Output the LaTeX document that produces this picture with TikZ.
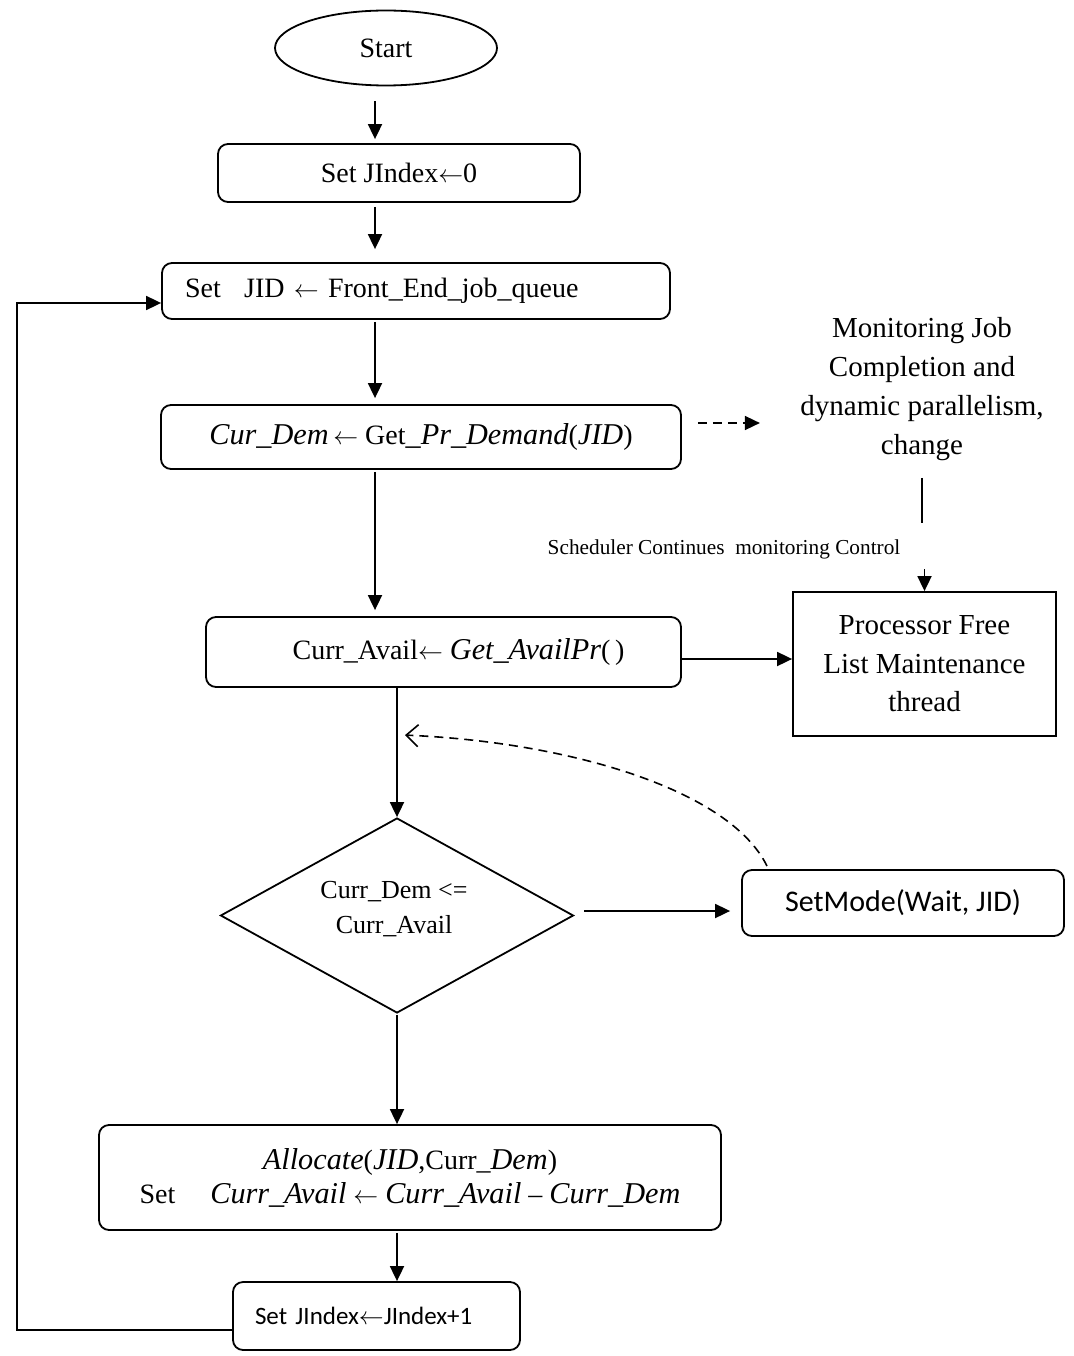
\documentclass[tikz,border=0pt]{standalone}
\usepackage{fontspec}
\setmainfont{Liberation Serif}
\newfontfamily\calfont{Carlito}
\newfontfamily\itf{Liberation Serif}[Scale=1.08]
\newcommand\mi[1]{{\itf\itshape #1}}
\newcommand\larr{\ensuremath{\leftarrow}}
\usetikzlibrary{shapes.geometric,arrows.meta,calc}
\begin{document}
\begin{tikzpicture}[x=1pt,y=-1pt,
  every node/.style={inner sep=0pt, font=\fontsize{28}{34}\selectfont},
  rbox/.style={draw, rounded corners=10pt, line width=1.8pt},
  sbox/.style={draw, line width=1.8pt},
  arr/.style={-{Triangle[length=15pt,width=14pt]}, line width=1.8pt},
  plain/.style={line width=1.8pt},
  dasharr/.style={dashed, dash pattern=on 9pt off 6pt, line width=1.6pt}]
\useasboundingbox (0,0) rectangle (1073,1356);

% nodes
\node[draw, ellipse, line width=1.8pt, minimum width=222pt, minimum height=75pt] (start) at (386,48) {Start};
\node[rbox, minimum width=362pt, minimum height=58pt] (sj0) at (399,173) {Set JIndex\larr0};
\node[rbox, minimum height=56pt, text width=462pt, inner xsep=23pt, align=left] (sjid) at (416,291)
  {Set\hspace{0.5em} JID \larr\ Front\_End\_job\_queue};
\node[rbox, minimum width=520pt, minimum height=64pt] (curdem) at (421,437)
  {\mi{Cur\_Dem}\,\larr\ Get\mi{\_Pr\_Demand}(\mi{JID})};
\node[align=center, font=\fontsize{29}{39}\selectfont] (mon) at (922,389)
  {Monitoring Job\\Completion and\\dynamic parallelism,\\change};
\node[font=\fontsize{21.3}{25}\selectfont] (sched) at (724,549) {Scheduler Continues\ \ monitoring Control};
\node[rbox, minimum width=475pt, minimum height=70pt] (curav) at (443.5,652)
  {\hspace*{30pt}Curr\_Avail\larr\ \mi{Get\_AvailPr}(\,)};
\node[sbox, minimum width=263pt, minimum height=144pt, align=center, font=\fontsize{29}{38.5}\selectfont] (proc) at (924.5,664)
  {Processor Free\\List Maintenance\\thread};
\node[draw, diamond, line width=1.8pt, minimum width=353pt, minimum height=195pt] (dia) at (397,915.5) {};
\node[align=center, font=\fontsize{26}{35}\selectfont] (diatext) at (394,909) {Curr\_Dem \textless=\\Curr\_Avail};
\node[rbox, minimum width=322pt, minimum height=66pt, font=\calfont\fontsize{30}{36}\selectfont] (setmode) at (903,903)
  {SetMode(Wait, JID)};
\node[rbox, minimum width=622pt, minimum height=105pt, align=center] (alloc) at (410,1177.5)
  {\mi{Allocate}(\mi{JID},Curr\_\mi{Dem})\\
   Set\hspace{1em} \mi{Curr\_Avail} \larr\ \mi{Curr\_Avail} – \mi{Curr\_Dem}};
\node[rbox, minimum height=68pt, text width=243pt, inner xsep=22pt, align=left,
  font=\calfont\fontsize{25}{30}\selectfont] (sj1) at (376.5,1316) {Set JIndex\larr JIndex+1};

% helper points
\coordinate (waitend) at ($(dia.north)+(8,-82)$);
\coordinate (waitstart) at ($(setmode.north)+(-136,-3)$);
\coordinate (dse) at ($(dia.east)+(10,-4.5)$);

% main flow
\draw[arr] ([xshift=-11pt,yshift=-15pt]start.south) -- ([xshift=-24pt,yshift=4pt]sj0.north);
\draw[arr] ([xshift=-24pt,yshift=-4pt]sj0.south) -- ([xshift=-41pt,yshift=13pt]sjid.north);
\draw[arr] ([xshift=-41pt,yshift=-2pt]sjid.south) -- ([xshift=-46pt,yshift=6pt]curdem.north);
\draw[arr] ([xshift=-46pt,yshift=-2pt]curdem.south) -- ([xshift=-68.5pt,yshift=6pt]curav.north);
\draw[arr] (curav.south -| dia.north) -- (dia.north);
\draw[arr] ([yshift=-1pt]dia.south) -- (alloc.north -| dia.south);
\draw[arr] ([yshift=-2pt]alloc.south -| dia.south) -- (sj1.north -| dia.south);

% side branches
\draw[dasharr, -{Triangle[length=15pt,width=14pt]}] ([shift={(16pt,14pt)}]curdem.east) -- ++(62pt,0pt);
\draw[plain] ([yshift=-17pt]mon.south) -- ++(0pt,-45pt);
\draw[arr] ([yshift=22pt]proc.north) -- (proc.north);
\draw[arr] ([yshift=-7pt]curav.east) -- ([yshift=5pt]proc.west);
\draw[arr] (dse) -- ($(dse -| setmode.west)+(-11,0)$);
\draw[dasharr, -{Straight Barb[length=12pt,width=22pt]}]
  (waitstart) .. controls (730,790) and (570,742) .. (waitend);

% loop back
\draw[arr] ([yshift=-14pt]sj1.west) -- ++(-215pt,0pt) |- ([yshift=-12pt]sjid.west);
\end{tikzpicture}
\end{document}
